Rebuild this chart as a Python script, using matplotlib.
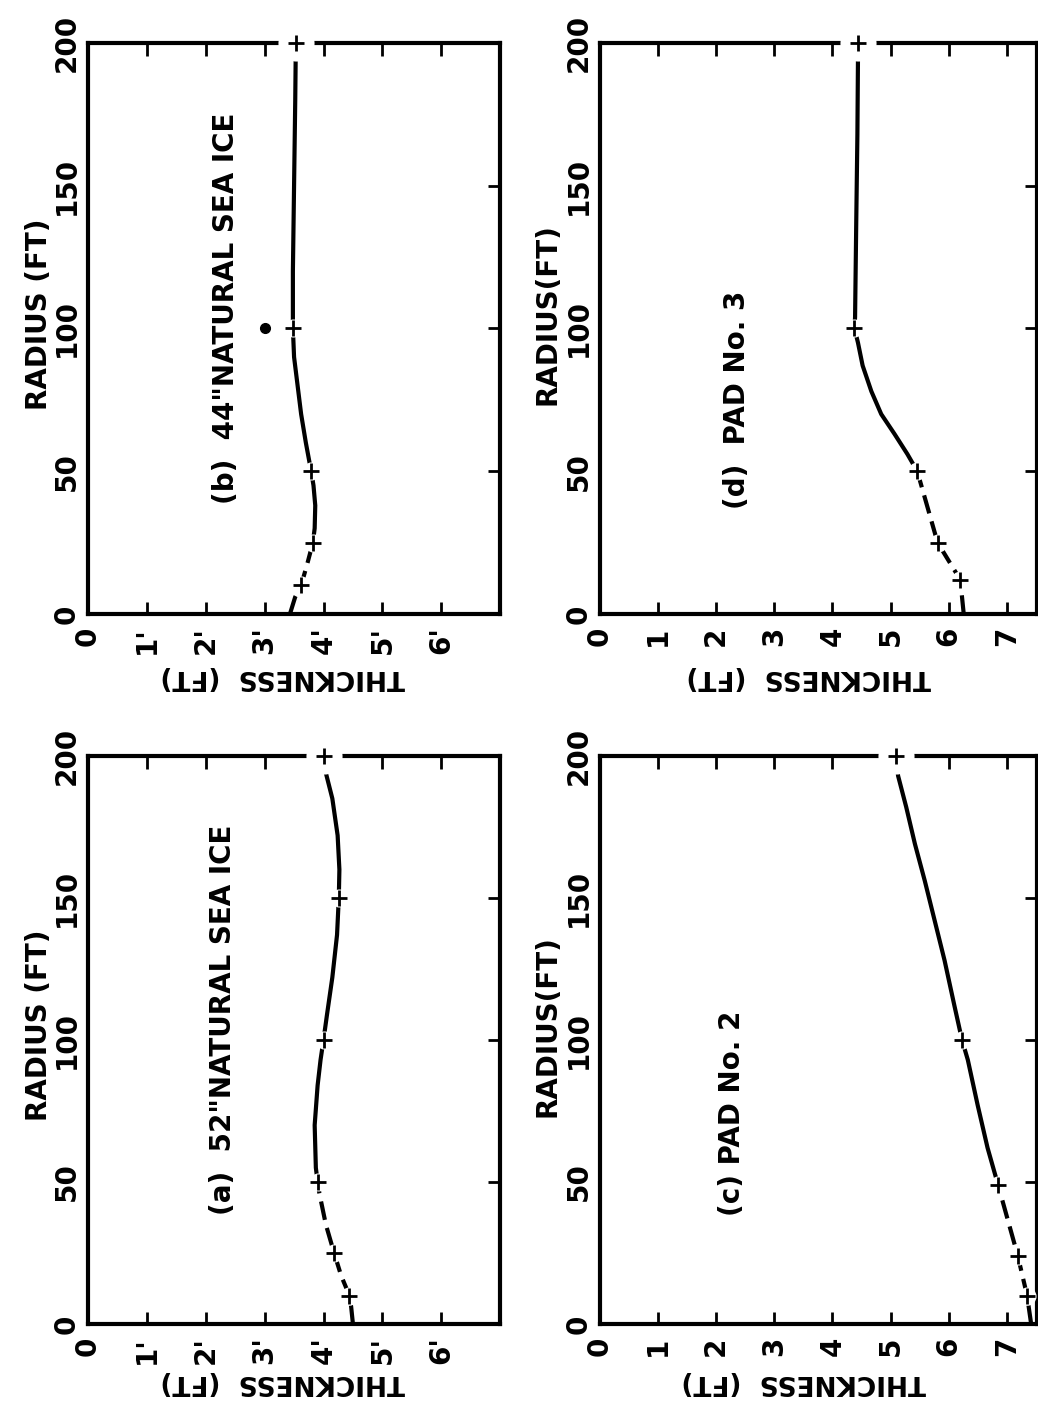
import numpy as np
import matplotlib.pyplot as plt

# (a) 52" natural sea ice
radius_a = [0, 6, 10, 17, 25, 35, 46, 50, 55, 70, 84, 93, 100, 109, 122, 137, 150, 160, 172, 185, 194, 200]
thick_a = [4.50, 4.47, 4.44, 4.30, 4.18, 4.04, 3.93, 3.90, 3.87, 3.85, 3.90, 3.95, 4.00, 4.06, 4.15, 4.23, 4.26, 4.27, 4.24, 4.15, 4.04, 4.00]
mark_r_a = [10, 25, 50, 100, 150, 200]
mark_t_a = [4.44, 4.18, 3.90, 4.00, 4.26, 4.00]

# (b) 44" natural sea ice
radius_b = [0, 6, 10, 18, 25, 30, 38, 45, 50, 60, 70, 80, 90, 100, 120, 150, 180, 200]
thick_b = [3.43, 3.52, 3.62, 3.73, 3.82, 3.85, 3.86, 3.83, 3.79, 3.70, 3.62, 3.56, 3.50, 3.48, 3.48, 3.50, 3.52, 3.53]
mark_r_b = [10, 25, 50, 100, 200]
mark_t_b = [3.62, 3.82, 3.79, 3.48, 3.53]
dot_r_b = [100]
dot_t_b = [3.0]

# (c) pad no. 2
radius_c = [0, 10, 24, 49, 62, 77, 93, 100, 112, 128, 142, 156, 169, 182, 193, 200]
thick_c = [7.42, 7.35, 7.19, 6.85, 6.67, 6.50, 6.33, 6.23, 6.10, 5.93, 5.76, 5.59, 5.42, 5.27, 5.13, 5.09]
mark_r_c = [10, 24, 49, 100, 200]
mark_t_c = [7.35, 7.19, 6.85, 6.23, 5.09]

# (d) pad no. 3
radius_d = [0, 12, 25, 50, 56, 63, 70, 78, 87, 95, 100, 104, 137, 168, 195, 200]
thick_d = [6.26, 6.20, 5.81, 5.46, 5.29, 5.07, 4.84, 4.67, 4.52, 4.44, 4.38, 4.39, 4.41, 4.43, 4.44, 4.44]
mark_r_d = [12, 25, 50, 100, 200]
mark_t_d = [6.20, 5.81, 5.46, 4.38, 4.44]

radius_ticks = [0, 50, 100, 150, 200]
radius_labels = ["0", "50", "100", "150", "200"]
thick_labels_ice = ["0", "1'", "2'", "3'", "4'", "5'", "6'"]
thick_labels_pad = ["0", "1", "2", "3", "4", "5", "6", "7"]

plt.rcParams["font.family"] = "DejaVu Sans"
plt.rcParams["font.weight"] = "bold"

fig = plt.figure(figsize=(10.38, 14.04), dpi=100)


def draw_panel(rect, r, t, mr, mt, split, xmax, xlabels, title, title_xy,
               rlabel, tlabel_x, tlabel_y):
    ax = fig.add_axes(rect)
    ax.set_xlim(0, xmax)
    ax.set_ylim(0, 200)
    for s in ax.spines.values():
        s.set_linewidth(3)

    r = np.array(r)
    t = np.array(t)
    dash = r <= split
    ax.plot(t[dash], r[dash], color="black", lw=3, dashes=(4.5, 2), clip_on=False)
    ax.plot(t[~dash | (r == split)], r[~dash | (r == split)], color="black", lw=3,
            clip_on=False)

    # white gaps around the measured points
    ax.plot(mt, mr, "o", color="white", ms=13, mec="none", zorder=3, clip_on=False)
    ax.plot(mt[-1:], mr[-1:], "o", color="white", ms=26, mec="none", zorder=3,
            clip_on=False)
    ax.plot(mt, mr, "+", color="black", ms=11, mew=2, zorder=4, clip_on=False)

    ax.set_xticks(range(len(xlabels)))
    ax.set_xticklabels(xlabels, rotation=90, fontsize=20, fontweight="bold")
    ax.set_yticks(radius_ticks)
    ax.set_yticklabels(radius_labels, rotation=90, va="center", fontsize=20,
                       fontweight="bold")
    ax.tick_params(axis="x", top=True, bottom=True, direction="in", length=9,
                   width=2, pad=9)
    ax.tick_params(axis="y", left=False, right=True, direction="in", length=9,
                   width=2, pad=5)

    ax.text(title_xy[0], title_xy[1], title, rotation=90, ha="center", va="center",
            fontsize=20, fontweight="bold")
    ax.text(-0.119, 0.525, rlabel, transform=ax.transAxes, rotation=90,
            ha="center", va="center", fontsize=20, fontweight="bold")
    ax.text(tlabel_x, tlabel_y, "THICKNESS  (FT)", transform=ax.get_xaxis_transform(),
            rotation=180, ha="center", va="center", fontsize=19, fontweight="bold")
    return ax


left_l, width_l = 0.0848, 0.397
left_r, width_r = 0.578, 0.421
bot_top, h_top = 0.5627, 0.4067
bot_bot, h_bot = 0.057, 0.4046

ax_b = draw_panel([left_l, bot_top, width_l, h_top], radius_b, thick_b,
                  mark_r_b, mark_t_b, 25, 7.0, thick_labels_ice,
                  '(b)  44"NATURAL SEA ICE', (2.35, 107), "RADIUS (FT)", 3.3, -0.110)
ax_b.plot(dot_t_b, dot_r_b, "o", color="black", ms=7)

draw_panel([left_r, bot_top, width_r, h_top], radius_d, thick_d,
           mark_r_d, mark_t_d, 50, 7.52, thick_labels_pad,
           "(d)  PAD No. 3", (2.36, 75), "RADIUS(FT)", 3.6, -0.110)

draw_panel([left_l, bot_bot, width_l, h_bot], radius_a, thick_a,
           mark_r_a, mark_t_a, 50, 7.0, thick_labels_ice,
           '(a)  52"NATURAL SEA ICE', (2.3, 107), "RADIUS (FT)", 3.3, -0.102)

draw_panel([left_r, bot_bot, width_r, h_bot], radius_c, thick_c,
           mark_r_c, mark_t_c, 49, 7.52, thick_labels_pad,
           "(c) PAD No. 2", (2.27, 74), "RADIUS(FT)", 3.5, -0.102)

fig.savefig("out.png", dpi=100)
